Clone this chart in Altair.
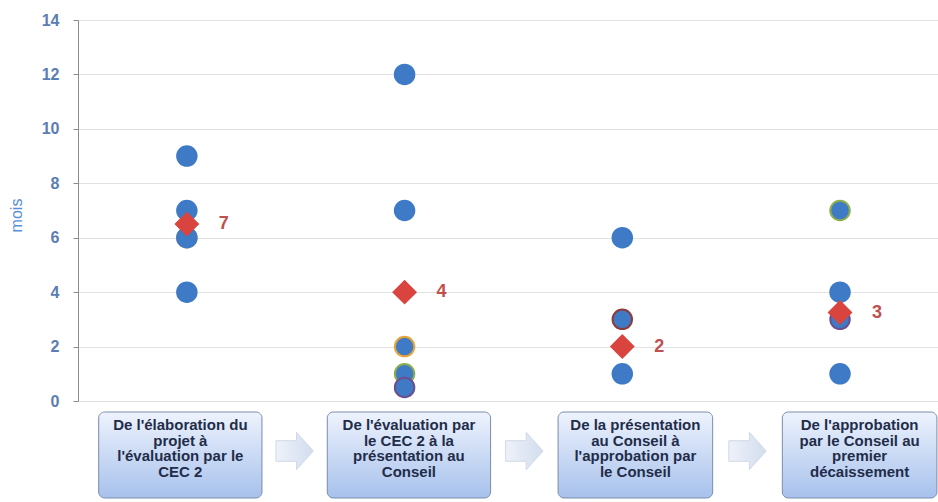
import altair as alt
import pandas as pd

# ---- data ----
stages = [
    "De l'élaboration du|projet à|l'évaluation par le|CEC 2",
    "De l'évaluation par|le CEC 2 à la|présentation au|Conseil",
    "De la présentation|au Conseil à|l'approbation par|le Conseil",
    "De l'approbation|par le Conseil au|premier|décaissement",
]
point_stage = [0, 0, 0, 0, 0, 1, 1, 1, 1, 1, 2, 2, 2, 3, 3, 3, 3]
point_value = [9, 7, 6, 6, 4, 12, 7, 2, 1, 0.5, 6, 3, 1, 7, 4, 3, 1]
point_edge = ["#3E7AC6", "#3E7AC6", "#E8A33A", "#3E7AC6", "#3E7AC6",
              "#3E7AC6", "#3E7AC6", "#E8A33A", "#8AAE4E", "#6B4F8F",
              "#3E7AC6", "#8E3B3B", "#3E7AC6",
              "#8AAE4E", "#3E7AC6", "#6B4F8F", "#3E7AC6"]
mean_value = [6.5, 4.0, 2.0, 3.25]
mean_label = ["7", "4", "2", "3"]

# ---- layout constants (in stage units) ----
box_shift = [-0.03, 0.02, 0.06, 0.09]
box_half = [0.375, 0.375, 0.355, 0.355]

pts = pd.DataFrame({"stage": point_stage, "mois": point_value, "edge": point_edge})
means = pd.DataFrame({"stage": list(range(4)), "mois": mean_value, "lab": mean_label})
boxes = pd.DataFrame({"stage": list(range(4)), "lines": [s.split("|") for s in stages]})
boxes["cx"] = boxes["stage"] + pd.Series(box_shift)
boxes["x1"] = boxes["cx"] - pd.Series(box_half)
boxes["x2"] = boxes["cx"] + pd.Series(box_half)
arrows = pd.DataFrame({"ax": [(boxes["x2"][i] + boxes["x1"][i + 1]) / 2 for i in range(3)]})

W, H = 860, 381
xs = alt.Scale(domain=[-0.5, 3.45], nice=False, zero=False)
ys = alt.Scale(domain=[0, 14], nice=False)

yaxis = alt.Axis(
    values=list(range(0, 15, 2)), title="mois", grid=True, gridColor="#E2E2E2",
    domainColor="#8C8C8C", tickColor="#8C8C8C", tickSize=5,
    labelFont="Liberation Sans", labelFontWeight="bold", labelFontSize=16,
    labelColor="#5A7DB3", labelPadding=14,
    titleFont="Liberation Sans", titleFontSize=16, titleFontWeight="normal",
    titleColor="#5B8FD6", titleX=-54, titleY=195, titleAlign="center",
)

dots = alt.Chart(pts).mark_circle(size=380, opacity=1, strokeWidth=2).encode(
    x=alt.X("stage:Q", scale=xs, axis=None),
    y=alt.Y("mois:Q", scale=ys, axis=yaxis),
    fill=alt.value("#3E7AC6"),
    stroke=alt.Color("edge:N", scale=None),
)

diam = alt.Chart(means).mark_point(shape="diamond", size=620, filled=True,
                                   color="#D9443E", opacity=1).encode(
    x=alt.X("stage:Q", scale=xs), y=alt.Y("mois:Q", scale=ys))

mlab = alt.Chart(means).mark_text(dx=37, align="center", baseline="middle",
                                  font="Liberation Sans", fontWeight="bold",
                                  fontSize=18, color="#C0504D").encode(
    x=alt.X("stage:Q", scale=xs), y=alt.Y("mois:Q", scale=ys), text="lab:N")

grad = alt.Gradient(gradient="linear", x1=0, y1=0, x2=0, y2=1,
                    stops=[alt.GradientStop(color="#EEF3FD", offset=0),
                           alt.GradientStop(color="#A7C1EC", offset=1)])

box = alt.Chart(boxes).mark_rect(cornerRadius=6, fill=grad, stroke="#7A8DAA",
                                 strokeWidth=1).encode(
    x=alt.X("x1:Q", scale=xs), x2="x2:Q",
    y=alt.value(H + 11), y2=alt.value(H + 97))

btxt = alt.Chart(boxes).mark_text(align="center", baseline="top",
                                  font="Liberation Sans", fontWeight="bold",
                                  fontSize=15, lineHeight=15.5, color="#1F2D4A").encode(
    x=alt.X("cx:Q", scale=xs), y=alt.value(H + 17), text="lines")

arrow_path = "M -1 -0.55 L 0.1 -0.55 L 0.1 -1 L 1 0 L 0.1 1 L 0.1 0.55 L -1 0.55 Z"
agrad = alt.Gradient(gradient="linear", x1=0, y1=0, x2=1, y2=0,
                     stops=[alt.GradientStop(color="#EEF2F9", offset=0),
                            alt.GradientStop(color="#D3DDEE", offset=1)])
arr = alt.Chart(arrows).mark_point(shape=arrow_path, size=1400, filled=True,
                                   fill=agrad, opacity=1,
                                   stroke="#D0D9E8", strokeWidth=1).encode(
    x=alt.X("ax:Q", scale=xs), y=alt.value(H + 50))

chart = alt.layer(dots, diam, mlab, box, btxt, arr).properties(
    width=W, height=H, autosize=alt.AutoSizeParams(type="none"),
    padding={"left": 78, "top": 20, "right": 0, "bottom": 101},
).configure_view(stroke=None).configure(background="white")

chart.save("out.html", embed_options={"renderer": "svg", "actions": False})
